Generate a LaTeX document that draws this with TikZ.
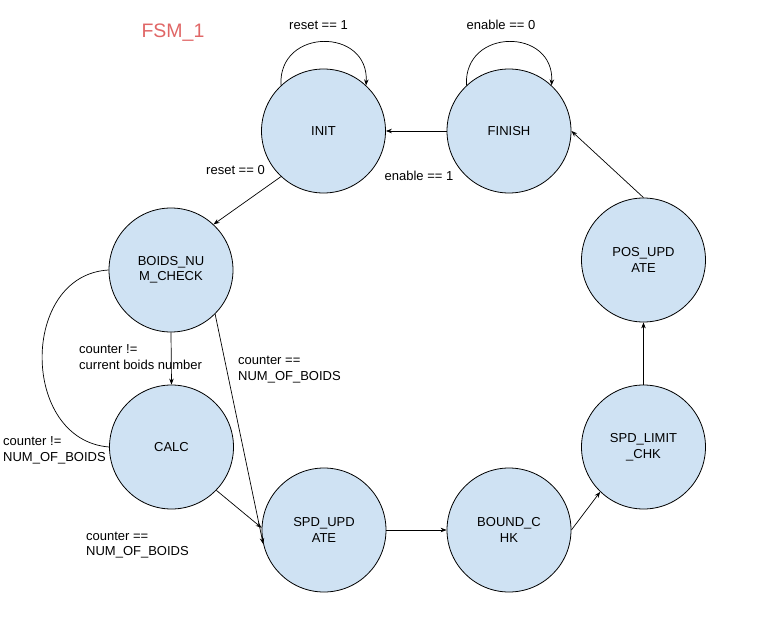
\documentclass[tikz,border=0pt]{standalone}
\usepackage{fontspec}
\setmainfont{Liberation Sans}
\usetikzlibrary{arrows.meta}
\definecolor{stfill}{HTML}{CFE2F3}
\definecolor{titlered}{HTML}{E06666}
\begin{document}
\begin{tikzpicture}[x=1pt,y=-1pt,
  font=\fontsize{13}{15.5}\selectfont,
  state/.style={circle,draw=black,line width=0.8pt,fill=stfill,minimum size=124pt,inner sep=0pt,align=center},
  lbl/.style={inner sep=0pt,align=left,anchor=west},
  clbl/.style={inner sep=0pt,align=center},
  conn/.style={line width=0.7pt,-{Stealth[length=6pt,width=4.5pt]}},
  plain/.style={line width=0.7pt}]
\useasboundingbox (0,0) rectangle (779,618);
\node[state] (init) at (323.5,131) {INIT};
\node[state] (finish) at (509,131) {FINISH};
\node[state] (boids) at (171,270) {BOIDS\_NU\\M\_CHECK};
\node[state] (calc) at (171.5,447) {CALC};
\node[state] (spd) at (324,530) {SPD\_UPD\\ATE};
\node[state] (bound) at (509,530) {BOUND\_C\\HK};
\node[state] (lim) at (643.5,447) {SPD\_LIMIT\\\_CHK};
\node[state] (pos) at (643.5,260) {POS\_UPD\\ATE};

\node[clbl,text=titlered,font=\fontsize{19.5}{22}\selectfont] (title) at (173,33) {FSM\_1};
\node[clbl] (l1) at (318.5,25) {reset == 1};
\node[clbl] (l2) at (501,25) {enable == 0};
\node[clbl] (l3) at (235.5,170) {reset == 0};
\node[clbl] (l4) at (419,176) {enable == 1};
\node[lbl] (l5) at (79,357) {counter !=\\current boids number};
\node[lbl] (l6) at (238,369.5) {counter ==\\NUM\_OF\_BOIDS};
\node[lbl] (l7) at (3,450.5) {counter !=\\NUM\_OF\_BOIDS};
\node[lbl] (l8) at (86,545) {counter ==\\NUM\_OF\_BOIDS};

\draw[conn] (init.133) .. controls +(-3,-58) and +(3,-58) .. (init.47);
\draw[conn] (finish.133) .. controls +(-3,-58) and +(3,-58) .. (finish.47);
\draw[conn] (finish.west) -- (init.east);
\draw[conn] (init.227) -- (boids.47);
\draw[conn] (pos.north) -- (finish.east);
\draw[conn] (lim.north) -- (pos.south);
\draw[conn] (bound.east) -- (lim.226);
\draw[conn] (spd.east) -- (bound.west);
\draw[conn] (calc.316) -- (spd.178);
\draw[conn] (boids.315) -- (spd.193);
\draw[conn] (boids.south) -- (calc.north);
\draw[plain] (boids.west) .. controls +(-89,5) and +(-89,-7) .. (calc.west);
\end{tikzpicture}
\end{document}
